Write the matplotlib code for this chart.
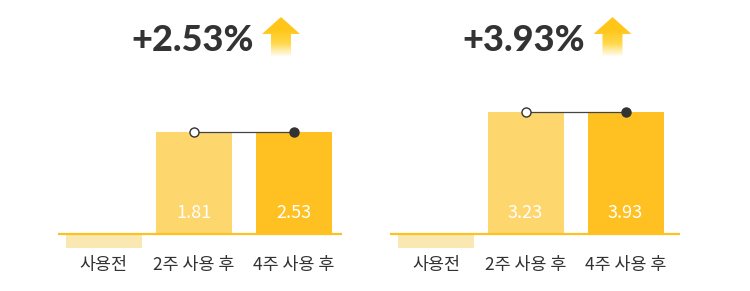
import numpy as np
import matplotlib.pyplot as plt
from matplotlib.patches import Polygon
from matplotlib.colors import LinearSegmentedColormap

plt.rcParams['font.family'] = ['Noto Sans CJK KR', 'DejaVu Sans']

# data
categories = ['사용전', '2주 사용 후', '4주 사용 후']
left_values = [None, 1.81, 2.53]
right_values = [None, 3.23, 3.93]
left_title = '+2.53%'
right_title = '+3.93%'
# drawn bar heights (chart is stylised, bars are not to scale)
left_heights = [-0.14, 1.02, 1.02]
right_heights = [-0.14, 1.22, 1.22]

bar_colors = ['#FAE8B2', '#FDD66E', '#FEC121']
axis_color = '#FDC220'
text_dark = '#333333'

arrow_cmap = LinearSegmentedColormap.from_list('arr', ['#FFFFFF', '#FFD84A', '#FFC619', '#FFC619'])

fig = plt.figure(figsize=(7.5, 2.91), dpi=100)


def draw_panel(ax, xpos, heights, values, title, xlim):
    ax.set_xlim(*xlim)
    ax.set_ylim(-0.57, 2.34)
    ax.axis('off')

    ax.bar(xpos, heights, width=0.76, color=bar_colors, zorder=2)
    ax.axhline(0, color=axis_color, lw=1.6, zorder=3)

    for x, v in zip(xpos, values):
        if v is not None:
            ax.text(x, 0.21, f'{v:.2f}', ha='center', va='center', color='white',
                    fontsize=13)
    for x, c in zip(xpos, categories):
        ax.text(x, -0.31, c, ha='center', va='center', color=text_dark, fontsize=12.5)

    # connector line with markers on bar tops
    ax.plot(xpos[1:], heights[1:], color='#444444', lw=0.9, zorder=4)
    ax.plot(xpos[1], heights[1], 'o', ms=6.5, mfc='white', mec='#333333', mew=1, zorder=5)
    ax.plot(xpos[2], heights[2], 'o', ms=6.5, mfc='#333333', mec='#333333', zorder=5)

    ax.text(0.985, 1.935, title, ha='center', va='center', color=text_dark,
            fontsize=26, fontweight=900, family=['Lato', 'DejaVu Sans'])

    # gradient up-arrow
    pts = [(1.68, 2.00), (1.87, 2.17), (2.06, 2.00), (1.97, 2.00),
           (1.97, 1.77), (1.77, 1.77), (1.77, 2.00)]
    poly = Polygon(pts, closed=True, facecolor='none', edgecolor='none')
    ax.add_patch(poly)
    grad = np.linspace(0, 1, 100).reshape(-1, 1)
    im = ax.imshow(grad, cmap=arrow_cmap, origin='lower', aspect='auto',
                   extent=(1.68, 2.06, 1.77, 2.17), zorder=3)
    im.set_clip_path(poly)


ax1 = fig.add_axes([58 / 750, 0, 284 / 750, 1])
draw_panel(ax1, [0.095, 1, 2], left_heights, left_values, left_title, (-0.36, 2.48))

ax2 = fig.add_axes([390 / 750, 0, 290 / 750, 1])
draw_panel(ax2, [0.105, 1, 2], right_heights, right_values, right_title, (-0.355, 2.545))

fig.savefig('out.png', dpi=100)
